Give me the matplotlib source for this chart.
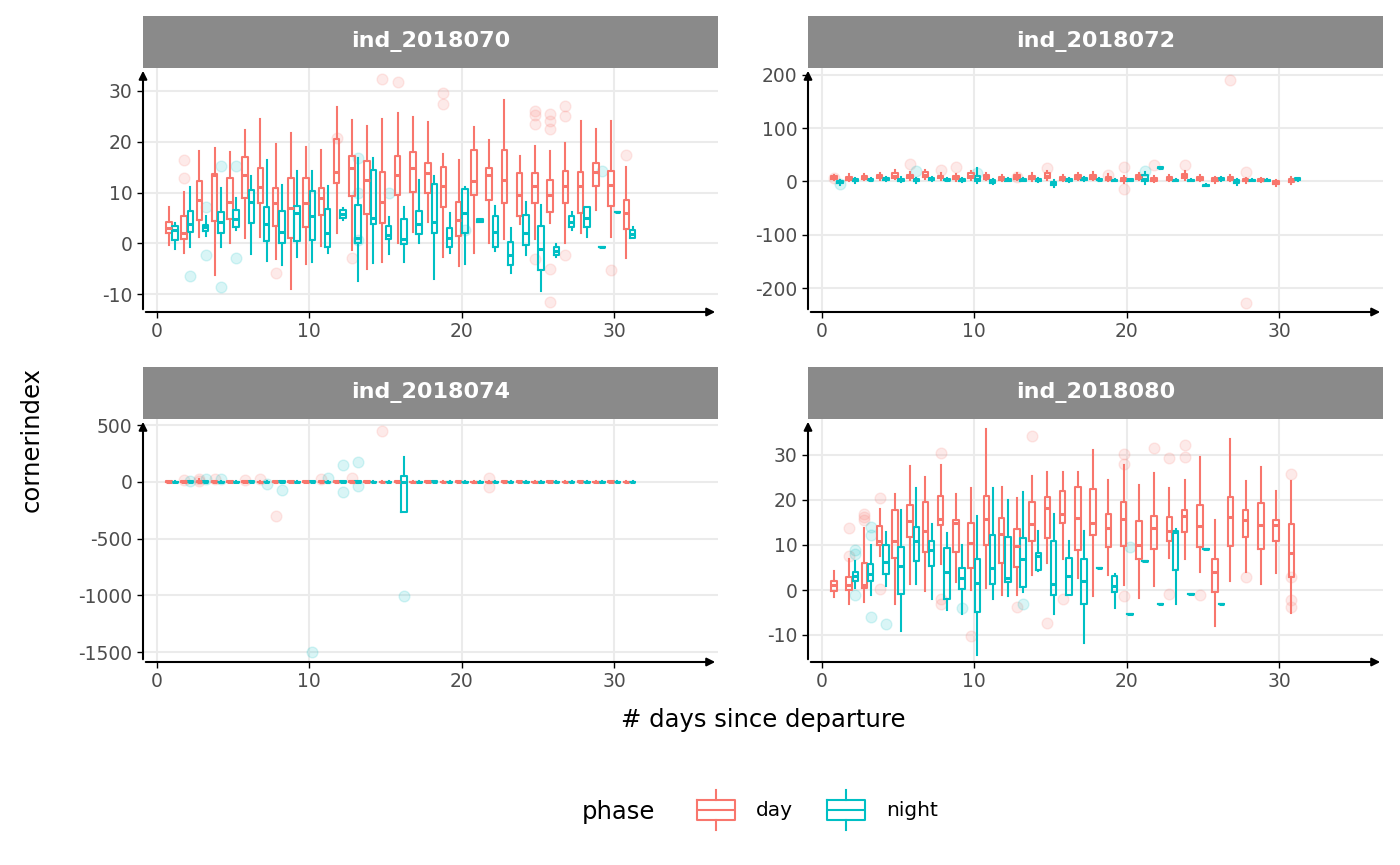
import matplotlib.pyplot as plt
import numpy as np

plt.rcParams['font.family'] = ['DejaVu Sans']
plt.rcParams['axes.unicode_minus'] = False

DAY_COL = '#F8766D'
NIGHT_COL = '#00BFC4'

titles = ['ind_2018070', 'ind_2018072', 'ind_2018074', 'ind_2018080']

# (day, whisker low, q1, median, q3, whisker high)
p1_day = [
    (1, -0.3, 2, 3, 4.3, 7.2), (2, -1.8, 0.8, 2, 5.3, 10.2), (3, 1.3, 4.6, 8.6, 12.2, 18.2),
    (4, -6.2, 4.5, 13.5, 13.7, 18.7), (5, 0, 4.7, 8.2, 12.8, 18), (6, 1, 8.9, 13.5, 16.9, 22.4),
    (7, 1.3, 7.9, 11, 14.8, 24.5), (8, -3, 3.4, 7.9, 10.9, 19.5), (9, -8.9, 1, 6.9, 12.8, 21.7),
    (10, -4, 3.3, 7.9, 12.8, 19), (11, -0.5, 5.6, 8.9, 10.9, 18.3), (12, 2.1, 11.8, 14.1, 20.6, 26.8),
    (13, -1.3, 9.4, 14.8, 17.2, 24.3), (14, -5.1, 5.8, 12.5, 16.3, 23), (15, -3.6, 4.1, 8.2, 14.1, 24.5),
    (16, 0, 9.5, 13.5, 17.1, 25.7), (17, 2.3, 10.2, 14.8, 18, 24.9), (18, 4.3, 10, 13.8, 15.8, 23.9),
    (19, -2.6, 7.2, 11.2, 15.1, 17.6), (20, -4.5, 1.5, 4.6, 8.2, 16.4), (21, -1.8, 9.5, 12.2, 18.4, 22.8),
    (22, 0, 8.6, 13.5, 14.8, 20.4), (23, 0.8, 7.9, 12.5, 18.3, 28.3), (24, 3.9, 5.3, 9.5, 13.8, 17.2),
    (25, 0.8, 8, 11.2, 13.8, 19.2), (26, 4.1, 6.1, 9.5, 12.4, 18.1), (27, 0, 7.9, 11.2, 14.3, 19.7),
    (28, 2, 5.9, 11.2, 14.1, 24.1), (29, 6.6, 11.2, 14.1, 15.8, 22.5), (30, 1.3, 7.4, 11.5, 14.3, 24),
    (31, -2.8, 2.8, 5.9, 8.6, 15),
]
p1_night = [
    (1, -1.2, 0.7, 2.6, 3.4, 4.1), (2, -0.7, 2.3, 3.9, 6.3, 11), (3, 1.4, 2.5, 3.2, 3.6, 5.4),
    (4, -0.7, 2.1, 4.3, 6.1, 10.8), (5, 2.6, 3.2, 4.7, 6.6, 9), (6, -2, 4.1, 8.2, 10.5, 13.3),
    (7, -3.4, 0.5, 3.9, 7.1, 16.4), (8, -4.3, 0.1, 2.3, 6.3, 11.5), (9, -2.6, 0.5, 5.9, 7.4, 14.3),
    (10, -3.6, 0.7, 5.3, 10.4, 14.3), (11, -1.8, -0.7, 2, 6.7, 11.2), (12, 4.6, 4.9, 5.8, 6.6, 6.9),
    (13, -7.4, 0.1, 1, 7.6, 16.8), (14, -3.9, 3.9, 4.9, 14.5, 16.8), (15, -2, 0.8, 1.6, 3.4, 5.1),
    (16, -3.6, -0.1, 0.8, 4.7, 7.1), (17, 0.1, 1.8, 3.9, 6.4, 12.5), (18, -7.1, 2.1, 4.3, 11.6, 13.2),
    (19, -1.8, -0.7, 1, 3, 5.9), (20, -4.1, 2, 5.9, 10.7, 11), (21, 4.2, 4.2, 4.4, 4.7, 4.7),
    (22, -1.5, -0.7, 2.3, 5.3, 7.4), (23, -5.9, -4.3, -2.3, 0.3, 3), (24, -2.3, -0.3, 2.1, 5.6, 8.1),
    (25, -9.3, -5.3, -1.2, 3.4, 7.6), (26, -2.6, -2.3, -1.5, -0.7, -0.1), (27, 2.6, 3.3, 4.3, 5.4, 6.1),
    (28, 1.3, 3.3, 4.9, 7.1, 7.2), (29, -0.7, -0.7, -0.7, -0.7, -0.7), (30, 6.2, 6.2, 6.2, 6.2, 6.2),
    (31, 1, 1, 1.8, 2.6, 3.3),
]
p1_out_day = [(2, 16.5), (2, 12.8), (12, 20.8), (15, 32.3), (16, 31.8), (19, 29.5), (19, 27.5),
              (25, 26), (25, 25.3), (25, 23.5), (26, 25.5), (26, 24), (26, 22.5), (27, 27), (27, 25),
              (31, 17.3), (8, -5.8), (13, -2.8), (26, -11.5), (27, -2.3), (26, -5), (25, -3), (30, -5.3)]
p1_out_night = [(3, -2.3), (4, 15.3), (5, 15.2), (2, -6.5), (4, -8.5), (5, -2.8), (13, 16.8),
                (13, 10), (13, 0.7), (15, 10), (20, 2.6), (29, 14.3), (3, 7.2)]

p2_day = [
    (1, 2, 5, 8, 10, 12), (2, 0, 3, 6, 9, 14), (3, 2, 5, 7, 10, 14), (4, 3, 6, 9, 12, 16),
    (5, 4, 7, 11, 16, 22), (6, 2, 6, 9, 13, 18), (7, 5, 9, 13, 18, 22), (8, 2, 6, 8, 11, 16),
    (9, 0, 4, 7, 10, 14), (10, 3, 7, 11, 16, 20), (11, 2, 5, 8, 12, 16), (12, 0, 3, 5, 8, 12),
    (13, 2, 5, 8, 12, 16), (14, 1, 4, 7, 11, 15), (15, 3, 7, 10, 15, 20), (16, 0, 3, 5, 8, 12),
    (17, 2, 5, 8, 12, 16), (18, 2, 5, 8, 12, 18), (19, 0, 3, 6, 9, 14), (20, -2, 1, 4, 7, 10),
    (21, 2, 5, 8, 12, 16), (22, -1, 1, 4, 7, 10), (23, 0, 3, 5, 8, 12), (24, 3, 6, 10, 14, 20),
    (25, 0, 3, 5, 8, 12), (26, -2, 1, 3, 6, 9), (27, 0, 3, 5, 8, 12), (28, -2, 0, 2, 4, 7),
    (29, -1, 1, 3, 5, 7), (30, -8, -5, -3, 0, 3), (31, -4, -1, 2, 5, 8),
]
p2_night = [
    (1, -6, -3, -1, 1, 2), (2, -2, 0, 2, 4, 6), (3, 0, 2, 3, 5, 7), (4, 1, 2, 4, 6, 8),
    (5, -1, 1, 3, 5, 8), (6, -2, 0, 2, 4, 6), (7, 0, 2, 4, 6, 9), (8, 0, 2, 3, 5, 7),
    (9, -1, 1, 2, 4, 6), (10, -2, 1, 4, 10, 26), (11, -4, -2, 0, 3, 5), (12, 0, 1, 2, 4, 6),
    (13, 0, 1, 3, 5, 7), (14, -1, 1, 3, 4, 6), (15, -10, -7, -4, -1, 2), (16, -1, 0, 2, 4, 6),
    (17, 1, 2, 4, 6, 8), (18, 1, 2, 3, 5, 6), (19, 0, 1, 2, 3, 4), (20, 0, 1, 3, 4, 5),
    (21, -4, 0, 4, 12, 18), (22, 24, 25, 26, 27, 28), (23, 0, 1, 2, 3, 4), (24, 0, 1, 2, 3, 4),
    (25, -9, -8, -7, -6, -5), (26, 0, 2, 4, 6, 8), (27, -6, -3, 0, 3, 5), (28, 0, 1, 2, 3, 4),
    (29, 0, 1, 2, 3, 4), (31, 1, 2, 4, 6, 7),
]
p2_out_day = [(6, 32), (8, 22), (9, 28), (15, 26), (20, -15), (20, 28), (22, 30), (24, 30),
              (27, 190), (28, -228), (28, 18), (1, 6), (13, 8), (19, 12)]
p2_out_night = [(1, -5), (6, 20), (21, 20), (10, 15)]

p3_day = [
    (1, -8, -4, 0, 3, 8), (2, -6, -3, 0, 4, 10), (3, -10, -4, 2, 8, 20), (4, -5, -2, 1, 3, 6),
    (5, -6, -2, 1, 4, 8), (6, -5, -2, 0, 3, 6), (7, -6, -2, 0, 2, 5), (8, -10, -5, -1, 3, 8),
    (9, -5, -2, 0, 3, 6), (10, -6, -3, 0, 3, 6), (11, -8, -4, 0, 4, 8), (12, -6, -3, 0, 3, 6),
    (13, -5, -2, 0, 3, 5), (14, -6, -3, 0, 3, 6), (15, -5, -2, 0, 2, 5), (16, -6, -3, 0, 3, 6),
    (17, -5, -2, 0, 2, 5), (18, -6, -3, 0, 3, 6), (19, -5, -2, 0, 2, 5), (20, -6, -3, 0, 3, 6),
    (21, -8, -4, -1, 2, 5), (22, -10, -5, -2, 2, 6), (23, -8, -4, -1, 3, 8), (24, -6, -3, 0, 3, 6),
    (25, -5, -2, 0, 2, 5), (26, -6, -3, 0, 3, 6), (27, -5, -2, 0, 2, 5), (28, -6, -3, 0, 3, 6),
    (29, -5, -2, 0, 2, 5), (30, -6, -3, 0, 3, 6), (31, -5, -2, 0, 2, 5),
]
p3_night = [
    (1, -6, -3, -1, 2, 4), (2, -6, -3, 0, 3, 6), (3, -6, -3, 0, 3, 6), (4, -5, -2, 0, 2, 5),
    (5, -5, -2, 0, 2, 5), (6, -6, -3, 0, 3, 6), (7, -5, -2, 0, 2, 5), (8, -8, -4, 0, 3, 6),
    (9, -5, -2, 0, 2, 5), (10, -6, -3, 0, 3, 6), (11, -5, -2, 0, 2, 5), (12, -6, -3, 0, 3, 6),
    (13, -10, -5, 0, 4, 10), (14, -5, -2, 0, 2, 5), (15, -5, -2, 0, 2, 5), (16, -262, -262, -5, 55, 215),
    (17, -5, -2, 0, 2, 5), (18, -6, -3, 0, 3, 6), (19, -5, -2, 0, 2, 5), (20, -5, -2, 0, 2, 5),
    (21, -5, -2, 0, 2, 5), (22, -5, -2, 0, 2, 5), (23, -5, -2, 0, 2, 5), (24, -5, -2, 0, 2, 5),
    (25, -5, -2, 0, 2, 5), (26, -5, -2, 0, 2, 5), (27, -5, -2, 0, 2, 5), (28, -5, -2, 0, 2, 5),
    (29, -5, -2, 0, 2, 5), (30, -5, -2, 0, 2, 5), (31, -5, -2, 0, 2, 5),
]
p3_out_day = [(8, -300), (15, 450), (2, 15), (3, 20), (3, 10), (4, 25), (7, 20), (13, 30),
              (22, -50), (22, 30), (11, 20), (6, 15)]
p3_out_night = [(10, -1500), (16, -1010), (12, 150), (13, 170), (12, -90), (8, -70), (13, -40),
                (3, 20), (2, 10), (4, 25), (7, -20), (11, 30)]

p4_day = [
    (1, -1.5, -0.2, 1.1, 2, 4.3), (2, -3.2, 0, 1.1, 3, 6.8), (3, -2.6, 0.4, 1.1, 6, 13.8),
    (4, 7.5, 10, 10.9, 14.3, 18), (5, -3.2, 7.1, 10.9, 17.7, 21.4), (6, 1.3, 11.7, 15.4, 18.9, 27.6),
    (7, -0.2, 8.5, 13.2, 19.5, 25.2), (8, 5.8, 14.5, 15.8, 20.9, 27.7), (9, 1.7, 8.5, 14.8, 15.6, 21.3),
    (10, 0, 5, 10.5, 15, 22.6), (11, 0.4, 10, 15.8, 20.8, 35.7), (12, -1.1, 6, 12.4, 16, 22.8),
    (13, -1.1, 5.1, 9.8, 13.5, 20.5), (14, 3.4, 10.8, 14.7, 19.5, 25.3), (15, 5.9, 11.5, 18.3, 20.7, 26.3),
    (16, 6.8, 15, 16.9, 22, 26.3), (17, 2.6, 8.9, 16, 22.9, 26.3), (18, -1.3, 12.3, 15, 22.4, 31.2),
    (19, 3.4, 9.6, 13.8, 16.8, 24.4), (20, 1.1, 9.8, 15.8, 19.5, 27.7), (21, -1.7, 6.8, 10, 15.3, 23.3),
    (22, 0.9, 9.2, 13.8, 16.5, 26.1), (23, 7.1, 10.8, 13.2, 16.2, 22.6), (24, 6.8, 12.8, 16.5, 17.7, 24.4),
    (25, 4, 9.5, 14.3, 19, 29.5), (26, -8, -0.4, 4.1, 6.8, 15.6), (27, 2, 9.8, 16.2, 20.7, 33.6),
    (28, 4.1, 11.7, 15.6, 17.7, 24.2), (29, 1.3, 9.2, 14.5, 19.4, 27.3), (30, 3.8, 10.9, 14.5, 15.6, 22),
    (31, -5, 3, 8.3, 14.7, 24.2),
]
p4_night = [
    (2, 0.4, 2, 3.2, 4, 6.4), (3, -1, 1.9, 3.5, 5.8, 10), (4, 1, 3.5, 6.2, 10, 12.8),
    (5, -9.2, -0.8, 5.3, 9.5, 17.7), (6, 1.3, 6.4, 10.8, 14.1, 22.6), (7, -1.9, 5.3, 9, 11, 14.7),
    (8, -4.5, -1.9, 4, 9.4, 12.6), (9, -5.3, 0.2, 2.6, 4.9, 9.9), (10, -14.4, -4.9, 1.5, 6.9, 16.5),
    (11, -2, 1.3, 4.9, 12.3, 22.6), (12, -1.3, 1.7, 2.6, 11.8, 20.1), (13, -0.5, 0.6, 7, 11.5, 21.8),
    (14, 4.3, 4.5, 7.5, 8.3, 13.2), (15, -5.3, -1, 1.3, 10.8, 16.9), (16, -1.1, -1.1, 3.2, 7.1, 10.9),
    (17, -11.7, -3.2, 1.9, 6.8, 13.2), (18, 5, 5, 5, 5, 5), (19, -4, -0.4, 0.8, 3.2, 3.5),
    (20, -5.4, -5.4, -5.4, -5.4, -5.4), (21, 6.5, 6.5, 6.5, 6.5, 6.5), (22, -3, -3, -3, -3, -3),
    (23, -3.2, 4.5, 12.8, 13.2, 13.5), (24, -0.8, -0.8, -0.8, -0.8, -0.8), (25, 9.2, 9.2, 9.2, 9.2, 9.2),
    (26, -3.2, -3.2, -3.2, -3.2, -3.2),
]
p4_out_day = [(2, 13.8), (2, 7.5), (3, 17), (3, 15.5), (3, 16.3), (4, 20.5), (4, 0.2), (8, 30.5),
              (8, -3), (8, -2), (10, -10.3), (14, 34.3), (13, -3.7), (15, -7.3), (16, -2), (20, 30.2),
              (20, 28), (20, -1.3), (22, 31.5), (23, 29.3), (23, -0.8), (24, 32.3), (24, 29.5),
              (25, -1), (28, 3), (31, 25.8), (31, 3), (31, -2.2), (31, -3.8)]
p4_out_night = [(2, 9), (2, 8), (3, 14), (3, 12.3), (2, -1), (3, -6), (4, -7.5), (9, -4),
                (13, -3), (20, 9.5)]

panels = [
    (p1_day, p1_night, p1_out_day, p1_out_night, (-13.5, 34.5), [-10, 0, 10, 20, 30]),
    (p2_day, p2_night, p2_out_day, p2_out_night, (-245, 213), [-200, -100, 0, 100, 200]),
    (p3_day, p3_night, p3_out_day, p3_out_night, (-1588, 553), [-1500, -1000, -500, 0, 500]),
    (p4_day, p4_night, p4_out_day, p4_out_night, (-16, 38), [-10, 0, 10, 20, 30]),
]

W, H = 1400, 865
fig = plt.figure(figsize=(14, 8.65), dpi=100)
rects = [(143, 68, 718, 312), (808, 68, 1383, 312), (143, 419, 718, 662), (808, 419, 1383, 662)]


def draw_boxes(ax, rows, offset, col):
    stats = [dict(whislo=r[1], q1=r[2], med=r[3], q3=r[4], whishi=r[5], fliers=[]) for r in rows]
    pos = [r[0] + offset for r in rows]
    ax.bxp(stats, positions=pos, widths=0.36, showcaps=False, showfliers=False, manage_ticks=False,
           boxprops=dict(color=col, linewidth=1.5), medianprops=dict(color=col, linewidth=2.2),
           whiskerprops=dict(color=col, linewidth=1.5))


for (l, t, r, b), title, (dd, nn, od, on, ylim, yt) in zip(rects, titles, panels):
    ax = fig.add_axes([l / W, 1 - b / H, (r - l) / W, (b - t) / H])
    for o, c in ((od, DAY_COL), (on, NIGHT_COL)):
        xs = [p[0] + (-0.2 if c == DAY_COL else 0.2) for p in o]
        ax.scatter(xs, [p[1] for p in o], s=60, color=c, alpha=0.15, edgecolors=c, zorder=2)
    draw_boxes(ax, dd, -0.2, DAY_COL)
    draw_boxes(ax, nn, 0.2, NIGHT_COL)
    ax.set_xlim(-0.9, 36.8)
    ax.set_ylim(*ylim)
    ax.set_xticks([0, 10, 20, 30])
    ax.set_yticks(yt)
    ax.grid(True, which='major', color='#EBEBEB', linewidth=1.5)
    ax.set_axisbelow(True)
    for s in ax.spines.values():
        s.set_visible(False)
    ax.tick_params(axis='both', which='major', labelsize=13.5, labelcolor='#4D4D4D', color='black',
                   length=4, width=1)
    ax.annotate('', xy=(1, 0), xytext=(0, 0), xycoords='axes fraction',
                arrowprops=dict(arrowstyle='-|>', color='black', lw=1.5, mutation_scale=12))
    ax.annotate('', xy=(0, 1), xytext=(0, 0), xycoords='axes fraction',
                arrowprops=dict(arrowstyle='-|>', color='black', lw=1.5, mutation_scale=12))
    sax = fig.add_axes([l / W, 1 - t / H, (r - l) / W, 52 / H])
    sax.set_facecolor('#8A8A8A')
    sax.set_xticks([])
    sax.set_yticks([])
    for s in sax.spines.values():
        s.set_visible(False)
    sax.text(0.5, 0.5, title, color='white', fontsize=16, fontweight='bold', ha='center', va='center',
             transform=sax.transAxes)

fig.text(32 / W, 1 - 440 / H, 'cornerindex', rotation=90, fontsize=17.5, ha='center', va='center')
fig.text(763 / W, 1 - 720 / H, '# days since departure', fontsize=17.5, ha='center', va='center')

# legend
lax = fig.add_axes([0, 0, 1, 1], facecolor='none')
lax.set_xlim(0, W)
lax.set_ylim(H, 0)
lax.axis('off')
lax.text(582, 812, 'phase', fontsize=17.5, va='center', ha='left')
for x0, col, lab in ((716, DAY_COL, 'day'), (846, NIGHT_COL, 'night')):
    st = [dict(whislo=790, q1=800, med=810, q3=820, whishi=830, fliers=[])]
    lax.bxp(st, positions=[x0], widths=38, showcaps=False, showfliers=False, manage_ticks=False,
            boxprops=dict(color=col, linewidth=1.5), medianprops=dict(color=col, linewidth=1.5),
            whiskerprops=dict(color=col, linewidth=1.5))
    lax.text(x0 + 40, 810, lab, fontsize=14.5, va='center', ha='left')
lax.set_ylim(H, 0)

fig.savefig('out.png', dpi=100)
